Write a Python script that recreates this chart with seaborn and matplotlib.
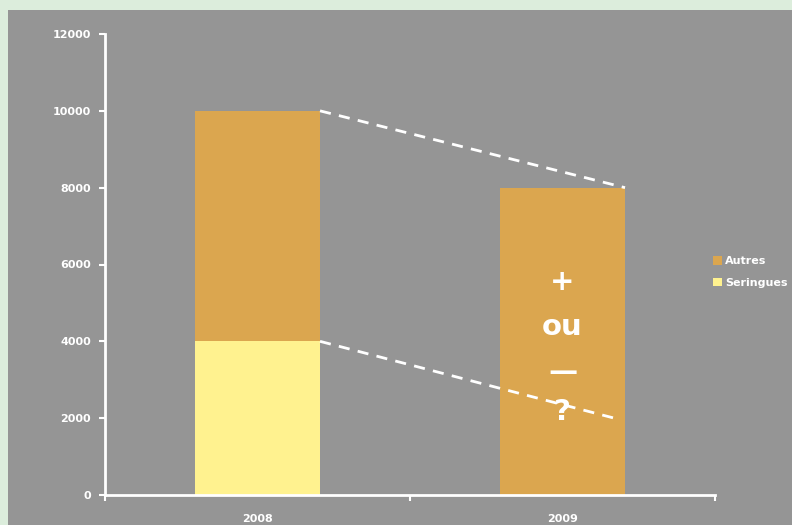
import matplotlib
matplotlib.use("Agg")
import matplotlib.pyplot as plt
from matplotlib.patches import Rectangle, Patch
import seaborn as sns
import pandas as pd

# Data
years = ["2008", "2009"]
seringues = [4000, 0]
autres = [6000, 8000]
projection_top = [10000, 8000]
projection_low = [4000, 2000]
y_ticks = [0, 2000, 4000, 6000, 8000, 10000, 12000]
question_text = ["+", "ou", "—", "?"]

col_autres = "#DBA64F"
col_seringues = "#FFF28F"
bg_gray = "#959595"
frame_green = "#DCEDDC"

df = pd.DataFrame({
    "annee": years,
    "Seringues": seringues,
    "Autres": autres,
})
df["total"] = df["Seringues"] + df["Autres"]

sns.set_theme(style="white")
plt.rcParams["font.family"] = ["DejaVu Sans"]

fig = plt.figure(figsize=(7.92, 5.25), dpi=100)
fig.patch.set_facecolor(frame_green)
fig.add_artist(Rectangle((8 / 792, 0), 1, 1 - 10 / 525, transform=fig.transFigure,
                         facecolor=bg_gray, edgecolor="none", zorder=0))

ax = fig.add_axes([105 / 792, 30 / 525, 610 / 792, 461 / 525])
ax.set_facecolor("none")

sns.barplot(data=df, x="annee", y="total", color=col_autres, width=0.41,
            saturation=1, ax=ax, linewidth=0)
sns.barplot(data=df, x="annee", y="Seringues", color=col_seringues, width=0.41,
            saturation=1, ax=ax, linewidth=0)

# dashed projection lines from the right edge of each bar
half = 0.41 / 2
ax.plot([0 + half, 1 + half], projection_top, ls=(0, (4, 3)), color="white", lw=2)
ax.plot([0 + half, 1 + 0.17], projection_low, ls=(0, (4, 3)), color="white", lw=2)

# annotation inside the 2009 bar
for txt, yv in zip(question_text, [5550, 4380, 3200, 2150]):
    ax.text(1, yv, txt, ha="center", va="center", color="white",
            fontsize=21, fontweight="bold")

ax.set_xlim(-0.5, 1.5)
ax.set_ylim(0, 12000)
ax.set_yticks(y_ticks)
ax.set_yticklabels([str(v) for v in y_ticks], color="white", fontsize=8, fontweight="bold")
ax.set_xticks([0, 1])
ax.set_xticklabels(years, color="white", fontsize=8, fontweight="bold")
ax.set_xticks([-0.5, 0.5, 1.5], minor=True)
ax.tick_params(axis="x", which="major", length=0, pad=14, bottom=True)
ax.tick_params(axis="x", which="minor", length=4, width=1.5, color="white",
               direction="out", bottom=True)
ax.tick_params(axis="y", length=4, width=1.5, color="white", direction="out", left=True, pad=6)
ax.set_xlabel("")
ax.set_ylabel("")

for s in ["top", "right"]:
    ax.spines[s].set_visible(False)
for s in ["left", "bottom"]:
    ax.spines[s].set_color("white")
    ax.spines[s].set_linewidth(2)

handles = [Patch(facecolor=col_autres, edgecolor="none", label="Autres"),
           Patch(facecolor=col_seringues, edgecolor="none", label="Seringues")]
leg = fig.legend(handles=handles, loc="center left", bbox_to_anchor=(703 / 792, 1 - 272 / 525),
                 frameon=False, fontsize=8, handlelength=0.8, handleheight=0.8,
                 handletextpad=0.3, labelspacing=1.0)
for t in leg.get_texts():
    t.set_color("white")
    t.set_fontweight("bold")

fig.savefig("out.png", dpi=100, facecolor=fig.get_facecolor())
